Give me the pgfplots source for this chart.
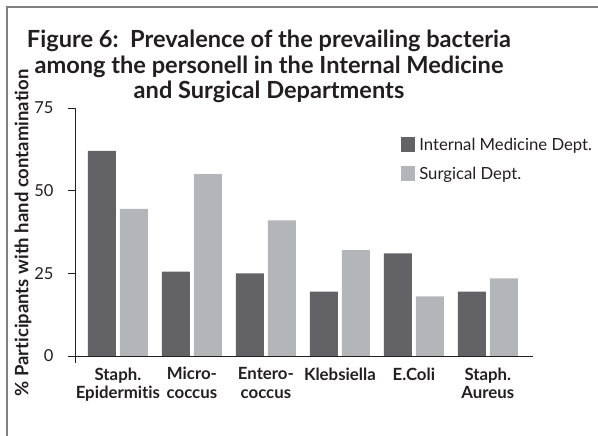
\documentclass[border=0pt]{standalone}
\usepackage{pgfplots}
\pgfplotsset{compat=1.18}
\usepackage{fontspec}
\setmainfont{Lato}[Ligatures=NoCommon]
\definecolor{darkbar}{RGB}{99,99,101}
\definecolor{lightbar}{RGB}{180,181,185}
\definecolor{framegray}{RGB}{128,128,128}
\definecolor{txt}{RGB}{35,31,32}
\begin{document}
\begin{tikzpicture}[x=1pt,y=1pt]
\path[use as bounding box] (0,0) rectangle (598,436);
\draw[framegray, line width=1.6pt] (7,0) -- (7,429) -- (598,429);
\node[font=\bfseries\fontsize{23.6}{25.5}\selectfont, align=center, anchor=north, inner sep=0pt, text=txt] at (269,406)
  {Figure 6:\ \ Prevalence of the prevailing bacteria\\among the personell in the Internal Medicine\\and Surgical Departments};
\node[rotate=90, font=\bfseries\fontsize{18.5}{20}\selectfont, text=txt] at (23,203) {\% Participants with hand contamination};
\begin{axis}[
  at={(75pt,80pt)}, anchor=south west,
  scale only axis, width=458pt, height=248pt,
  xmin=-0.58, xmax=5.61, ymin=0, ymax=75,
  axis x line=bottom, axis y line=left,
  axis line style={-, line width=0.8pt, txt},
  ytick={0,25,50,75},
  tick align=outside, major tick length=7pt,
  ytick style={line width=0.8pt, txt},
  xtick={0,1,2,3,4,5},
  xtick style={draw=none},
  xticklabels={{Staph.\\Epidermitis},{Micro-\\coccus},{Entero-\\coccus},{Klebsiella},{E.Coli},{Staph.\\Aureus}},
  xticklabel style={align=center, font=\bfseries\fontsize{16.8}{18.5}\selectfont, text=txt, anchor=north, yshift=-1pt},
  yticklabel style={font=\fontsize{16.5}{18}\selectfont, text=txt, xshift=-11pt},
  /pgf/number format/assume math mode=true,
  ybar=4pt, bar width=28pt,
  legend style={at={(0.712,0.888)}, anchor=north west, draw=none, fill=none,
     font=\fontsize{16.7}{18}\selectfont, text=txt, row sep=11pt, inner sep=0pt,
     nodes={inner sep=2pt}},
  legend cell align=left,
  legend image code/.code={\fill[#1] (0pt,-7.5pt) rectangle (14pt,7.5pt);},
]
\addplot[fill=darkbar, draw=none] coordinates {(0,62) (1,25.5) (2,25) (3,19.5) (4,31) (5,19.5)};
\addplot[fill=lightbar, draw=none] coordinates {(0,44.5) (1,55) (2,41) (3,32) (4,18) (5,23.5)};
\legend{\hspace{2pt}Internal Medicine Dept.,\hspace{2pt}Surgical Dept.}
\end{axis}
\draw[txt, line width=0.8pt] (75,80) -- (75,73);
\end{tikzpicture}
\end{document}
